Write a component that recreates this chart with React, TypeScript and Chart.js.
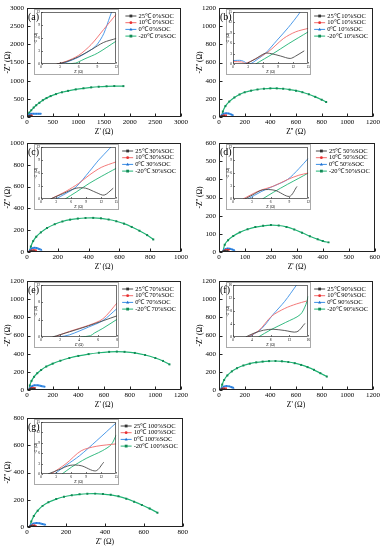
import React, { useEffect, useRef } from "react";
import { Chart, registerables } from "chart.js";
Chart.register(...registerables);

type Pt = [number, number];
const SERIF = "'Liberation Serif', 'Times New Roman', serif";

// ---------- labels ----------
const temps = ["25℃", "10℃", "0℃", "-20℃"];
const socLabels = ["0%SOC", "10%SOC", "30%SOC", "50%SOC", "70%SOC", "90%SOC", "100%SOC"];
const panelLetters = ["(a)", "(b)", "(c)", "(d)", "(e)", "(f)", "(g)"];
const xTitles = ["Z' (Ω)", "Z'' (Ω)", "Z' (Ω)", "Z' (Ω)", "Z' (Ω)", "Z' (Ω)", "Z' (Ω)"];
const yTitle = "-Z'' (Ω)";

// ---------- main axes ----------
const mainMax = [3000, 1200, 1000, 600, 1200, 1200, 800];
const mainStep = [500, 200, 200, 100, 200, 200, 200];

// ---------- inset axes ----------
const insetXMax = [12, 15, 15, 12, 8, 16, 15];
const insetXStep = [3, 3, 3, 3, 2, 4, 3];
const insetYMax = [12, 15, 12, 12, 12, 16, 15];
const insetYStep = [3, 3, 3, 3, 4, 4, 3];

// ---------- main data (Z', -Z'') ----------
const a25: Pt[] = [[8, 0], [15, 10], [25, 20], [40, 28], [60, 32], [80, 30]];
const a10: Pt[] = [[8, 0], [20, 15], [40, 28], [60, 35], [80, 38], [95, 40]];
const a0: Pt[] = [[8, 0], [20, 30], [40, 60], [60, 80], [90, 88], [130, 90], [180, 90], [230, 90], [275, 90]];
const aN20: Pt[] = [[5, 0], [20, 60], [45, 120], [83, 185], [130, 260], [180, 324], [240, 390], [308, 463], [380, 520], [460, 575], [564, 630], [680, 680], [800, 720], [949, 759], [1100, 790], [1250, 815], [1397, 833], [1550, 845], [1700, 852], [1878, 850]];

const b25: Pt[] = [[10, 0], [15, 5], [22, 10], [30, 8], [38, 5], [42, 8]];
const b10: Pt[] = [[10, 0], [18, 8], [28, 15], [40, 18], [55, 18]];
const b0: Pt[] = [[10, 0], [20, 20], [35, 35], [55, 42], [75, 38], [95, 28], [110, 20]];
const bN20: Pt[] = [[20, 0], [30, 60], [50, 120], [80, 170], [120, 215], [160, 248], [200, 272], [250, 290], [300, 303], [350, 311], [400, 315], [450, 315], [500, 311], [550, 302], [600, 290], [650, 273], [700, 250], [750, 222], [800, 190], [835, 165]];

const c25: Pt[] = [[10, 0], [18, 6], [26, 10], [34, 8], [40, 5], [46, 9]];
const c10: Pt[] = [[10, 0], [20, 10], [32, 17], [45, 19], [58, 17]];
const c0: Pt[] = [[12, 0], [20, 18], [32, 32], [48, 38], [62, 36], [78, 28], [95, 18]];
const cN20: Pt[] = [[15, 0], [25, 50], [40, 100], [60, 140], [90, 180], [130, 220], [180, 255], [230, 280], [280, 297], [330, 307], [380, 312], [430, 313], [480, 309], [530, 298], [580, 282], [630, 260], [680, 230], [730, 195], [780, 155], [820, 115]];

const d25: Pt[] = [[12, 0], [16, 4], [21, 7], [26, 6], [30, 4], [34, 6]];
const d10: Pt[] = [[12, 0], [18, 6], [24, 11], [31, 13], [38, 12]];
const d0: Pt[] = [[13, 0], [18, 9], [25, 16], [33, 19], [42, 18], [51, 14], [60, 9]];
const dN20: Pt[] = [[15, 0], [22, 40], [35, 65], [55, 88], [80, 108], [110, 125], [140, 137], [170, 144], [200, 148], [230, 146], [260, 138], [290, 124], [320, 106], [350, 87], [380, 70], [400, 60], [422, 53]];

const e25: Pt[] = [[12, 0], [20, 10], [30, 18], [42, 16], [52, 12], [60, 16]];
const e10: Pt[] = [[12, 0], [22, 14], [35, 22], [48, 25], [62, 22]];
const e0: Pt[] = [[14, 0], [25, 25], [40, 42], [60, 52], [85, 52], [110, 45], [140, 35]];
const eN20: Pt[] = [[15, 0], [22, 50], [35, 100], [55, 145], [80, 185], [110, 220], [150, 258], [200, 290], [260, 322], [330, 352], [400, 375], [480, 395], [560, 410], [640, 420], [700, 423], [760, 420], [840, 408], [920, 385], [1000, 352], [1060, 320], [1110, 282]];

const f25: Pt[] = [[10, 0], [15, 5], [22, 10], [30, 8], [38, 5], [44, 8]];
const f10: Pt[] = [[10, 0], [18, 9], [28, 16], [40, 19], [55, 18]];
const f0: Pt[] = [[12, 0], [22, 22], [38, 38], [58, 44], [80, 40], [100, 30], [115, 22]];
const fN20: Pt[] = [[15, 0], [25, 60], [40, 110], [65, 160], [100, 205], [140, 240], [190, 270], [240, 290], [290, 304], [340, 313], [390, 318], [440, 319], [490, 316], [540, 308], [590, 295], [640, 276], [690, 252], [740, 222], [790, 185], [840, 148]];

const g25: Pt[] = [[10, 0], [15, 5], [22, 8], [30, 6], [36, 8]];
const g10: Pt[] = [[10, 0], [18, 8], [28, 12], [38, 12], [45, 10]];
const g0: Pt[] = [[12, 0], [20, 15], [32, 25], [48, 30], [65, 28], [80, 22], [95, 17]];
const gN20: Pt[] = [[15, 0], [22, 40], [35, 80], [55, 120], [80, 155], [110, 182], [150, 205], [190, 222], [230, 233], [270, 240], [310, 244], [350, 245], [390, 242], [430, 236], [470, 225], [510, 208], [550, 186], [590, 162], [630, 135], [670, 105]];

// ---------- inset data (high-frequency zoom) ----------
const ai25: Pt[] = [[2.5, 0], [4, 0.5], [6, 1.7], [8, 3.3], [10, 5], [12, 5.9]];
const ai10: Pt[] = [[2.5, 0], [4, 0.6], [6, 2], [8, 4.5], [10, 8], [12, 11.5]];
const ai0: Pt[] = [[2.8, 0], [4, 0.4], [6, 1.6], [8.2, 3.5], [9, 4.6], [10, 7], [11, 11], [11.5, 13]];
const aiN20: Pt[] = [[4, 0], [5.5, 0.2], [6, 0.5], [7, 1.2], [9, 2.5], [12, 5.3]];

const bi25: Pt[] = [[2.6, 0], [4.5, 1.5], [6.4, 3.1], [7.6, 3], [9.5, 2.3], [11.4, 1.6], [12.5, 2.3], [14.2, 3.8]];
const bi10: Pt[] = [[0, 0.7], [1.7, 0.6], [2.5, 0.2], [4.5, 1.5], [7, 3.5], [10.1, 7.4], [12.5, 9.3], [15, 10.3]];
const bi0: Pt[] = [[0, 1], [1.7, 1], [3.25, 0], [5, 1.5], [6.4, 3], [8.8, 6.9], [11, 10.5], [13.2, 14.6], [13.5, 15.5]];
const biN20: Pt[] = [[4.5, 0], [8, 3], [11, 5.8], [15, 9.3]];

const ci25: Pt[] = [[1.9, 0], [4.5, 1.3], [7, 2.5], [8.9, 2.5], [11, 1.5], [12.6, 0.9], [14.4, 2.5]];
const ci10: Pt[] = [[1.9, 0], [5, 1.8], [7.5, 3.6], [9.6, 5.5], [12, 7.3], [15, 8.6]];
const ci0: Pt[] = [[2.9, 0], [5, 1.3], [7, 2.8], [9.6, 6.3], [11.5, 9], [13.7, 11.7], [14.2, 12.4]];
const ciN20: Pt[] = [[4.8, 0], [7, 1.6], [9.6, 3.6], [12, 5.2], [15, 7.1]];

const di25: Pt[] = [[1.9, 0], [3.2, 1], [4.7, 2.1], [6.7, 2], [9, 0.6], [10.2, 2.9]];
const di10: Pt[] = [[1.6, 0], [4, 1.8], [6.5, 3], [8.7, 4.5], [10.5, 5.5], [12, 6]];
const di0: Pt[] = [[2.4, 0], [4.5, 1.7], [6.5, 3], [8.7, 4.5], [10.5, 7], [12, 9.4]];
const diN20: Pt[] = [[4.7, 0], [6.5, 1.6], [8.7, 3.4], [10.5, 4.8], [12, 6]];

const ei25: Pt[] = [[1.2, 0], [3, 1.2], [5, 2.6], [8, 4.9]];
const ei10: Pt[] = [[1.4, 0], [3, 1.3], [5, 2.7], [6.5, 4.2], [8, 7.9]];
const ei0: Pt[] = [[1.9, 0], [3, 0.5], [5, 2.3], [6.5, 3.8], [8, 6.6]];
const eiN20: Pt[] = [[4.2, 0], [5.2, 0.3], [5.6, 0.9], [6.5, 2], [8, 4.1]];

const fi25: Pt[] = [[2.7, 0], [4.5, 1.2], [6.5, 2.1], [8.5, 2.4], [11, 2], [13.6, 1.6], [15.3, 4.2]];
const fi10: Pt[] = [[3.1, 0], [5.5, 2], [8.2, 6.4], [11, 8.8], [13.5, 10.2], [15.7, 11.1]];
const fi0: Pt[] = [[3.4, 0], [6.1, 2.6], [8.5, 6.9], [11, 11], [13.5, 16]];
const fiN20: Pt[] = [[5.4, 0], [8, 2.2], [11.2, 4.5], [14.3, 6.9], [15.5, 10], [16, 12.6]];

const gi25: Pt[] = [[1.4, 0], [3.5, 1.2], [5.8, 2.5], [8, 2.4], [10.9, 0.9], [12.5, 3.4]];
const gi10: Pt[] = [[2, 0], [5, 3], [8, 6.7], [11, 8], [15, 8.7]];
const gi0: Pt[] = [[2.7, 0], [5, 2.5], [7.7, 5.3], [11, 9.5], [15, 14.8]];
const giN20: Pt[] = [[4.2, 0], [6.1, 2], [9, 4.5], [12.2, 6.7], [14, 8.5], [15, 11.3]];

const mainSeries: Pt[][][] = [
  [a25, a10, a0, aN20], [b25, b10, b0, bN20], [c25, c10, c0, cN20], [d25, d10, d0, dN20],
  [e25, e10, e0, eN20], [f25, f10, f0, fN20], [g25, g10, g0, gN20],
];
const insetSeries: Pt[][][] = [
  [ai25, ai10, ai0, aiN20], [bi25, bi10, bi0, biN20], [ci25, ci10, ci0, ciN20], [di25, di10, di0, diN20],
  [ei25, ei10, ei0, eiN20], [fi25, fi10, fi0, fiN20], [gi25, gi10, gi0, giN20],
];

// ---------- styling ----------
const COLORS = ["#4a4a4a", "#f26b6b", "#3a8ee6", "#1fb374"];
const MARKER_COLORS = ["#333333", "#e83030", "#1f6fd0", "#128a55"];
const POINT_STYLES = ["rect", "circle", "triangle", "rect"];
const PANEL_X = [0, 192, 0, 192, 0, 192, 0];
const PANEL_Y = [0, 0, 135, 135, 273, 273, 410];
const PW = 190, PH = 139;
const IW = 85, IH = 66, IX = 34, IY = 9;

function drawMarker(ctx: CanvasRenderingContext2D, style: string, x: number, y: number, r: number, color: string) {
  ctx.fillStyle = color;
  ctx.beginPath();
  if (style === "circle") ctx.arc(x, y, r, 0, Math.PI * 2);
  else if (style === "triangle") { ctx.moveTo(x, y - r * 1.2); ctx.lineTo(x + r * 1.1, y + r * 0.8); ctx.lineTo(x - r * 1.1, y + r * 0.8); ctx.closePath(); }
  else ctx.rect(x - r, y - r, r * 2, r * 2);
  ctx.fill();
}

function framePlugin(tickLen: number, color: string, outer: boolean) {
  return {
    id: "frame",
    beforeDraw(chart: any) {
      if (!outer) return;
      const { ctx, width, height } = chart;
      ctx.save();
      ctx.fillStyle = "#fff";
      ctx.fillRect(0, 0, width, height);
      ctx.strokeStyle = "#aaa";
      ctx.lineWidth = 1;
      ctx.strokeRect(0.5, 0.5, width - 1, height - 1);
      ctx.restore();
    },
    afterDatasetsDraw(chart: any) {
      const { ctx, chartArea: a, scales } = chart;
      ctx.save();
      ctx.strokeStyle = color;
      ctx.lineWidth = outer ? 0.7 : 1;
      const L = Math.round(a.left) + 0.5, T = Math.round(a.top) + 0.5;
      const R = Math.round(a.right) - 0.5, B = Math.round(a.bottom) - 0.5;
      ctx.strokeRect(L, T, R - L, B - T);
      ctx.beginPath();
      scales.x.ticks.forEach((_t: any, i: number) => {
        const px = Math.round(scales.x.getPixelForTick(i)) + 0.5;
        ctx.moveTo(px, B); ctx.lineTo(px, B - tickLen);
      });
      scales.y.ticks.forEach((_t: any, i: number) => {
        const py = Math.round(scales.y.getPixelForTick(i)) + 0.5;
        ctx.moveTo(L, py); ctx.lineTo(L + tickLen, py);
      });
      ctx.stroke();
      ctx.restore();
    },
  };
}

function legendPlugin(idx: number) {
  return {
    id: "lg",
    afterDraw(chart: any) {
      const { ctx, chartArea: a } = chart;
      ctx.save();
      ctx.font = `6.5px ${SERIF}`;
      const labels = temps.map((t) => `${t} ${socLabels[idx]}`);
      const w = Math.max(...labels.map((l) => ctx.measureText(l).width));
      const x0 = a.right - 5 - w - 13;
      labels.forEach((l, i) => {
        const y = a.top + 8 + i * 6.7;
        ctx.strokeStyle = COLORS[i];
        ctx.lineWidth = 1;
        ctx.beginPath(); ctx.moveTo(x0, y); ctx.lineTo(x0 + 11, y); ctx.stroke();
        drawMarker(ctx, POINT_STYLES[i], x0 + 5.5, y, 1.4, MARKER_COLORS[i]);
        ctx.fillStyle = "#000";
        ctx.textBaseline = "middle";
        ctx.textAlign = "left";
        ctx.fillText(l, x0 + 13, y);
      });
      ctx.restore();
    },
  };
}

function MainChart({ idx }: { idx: number }) {
  const ref = useRef<HTMLCanvasElement>(null);
  useEffect(() => {
    const series = mainSeries[idx];
    const chart = new Chart(ref.current!, {
      type: "scatter",
      data: {
        datasets: series.map((pts, i) => ({
          label: `${temps[i]} ${socLabels[idx]}`,
          data: pts.map(([x, y]) => ({ x, y })),
          showLine: true,
          borderColor: COLORS[i],
          backgroundColor: MARKER_COLORS[i],
          borderWidth: i === 2 ? 2 : i === 3 ? 1.2 : 1,
          pointRadius: i === 3 ? 1.4 : 1,
          pointBorderWidth: 0,
          pointStyle: POINT_STYLES[i] as any,
          tension: 0.3,
        })),
      },
      options: {
        responsive: false,
        animation: false,
        devicePixelRatio: 1,
        layout: { padding: { top: 8, right: 7, left: 0, bottom: 0 } },
        plugins: { legend: { display: false }, tooltip: { enabled: false } },
        scales: {
          x: {
            type: "linear", min: 0, max: mainMax[idx],
            ticks: { stepSize: mainStep[idx], font: { family: SERIF, size: 7, lineHeight: 1 }, color: "#000", padding: 2, maxRotation: 0, autoSkip: false, callback: (v: any) => String(v) },
            grid: { display: false, drawTicks: false },
            border: { display: false },
            title: { display: true, text: xTitles[idx], font: { family: SERIF, size: 7.5, lineHeight: 1 }, color: "#000", padding: { top: 0, bottom: 3.5 } },
            afterFit: (s: any) => { s.height = 22; },
          },
          y: {
            type: "linear", min: 0, max: mainMax[idx],
            ticks: { stepSize: mainStep[idx], font: { family: SERIF, size: 7 }, color: "#000", padding: 3, autoSkip: false, callback: (v: any) => String(v) },
            grid: { display: false, drawTicks: false },
            border: { display: false },
            title: { display: true, text: yTitle, font: { family: SERIF, size: 7.5, lineHeight: 1 }, color: "#000", padding: { top: 4, bottom: 0 } },
            afterFit: (s: any) => { s.width = 27; },
          },
        },
      } as any,
      plugins: [framePlugin(3, "#222", false), legendPlugin(idx)],
    });
    return () => chart.destroy();
  }, [idx]);
  return (
    <canvas ref={ref} width={PW} height={PH}
      style={{ position: "absolute", left: PANEL_X[idx], top: PANEL_Y[idx], width: PW, height: PH }} />
  );
}

function InsetChart({ idx }: { idx: number }) {
  const ref = useRef<HTMLCanvasElement>(null);
  useEffect(() => {
    const series = insetSeries[idx];
    const chart = new Chart(ref.current!, {
      type: "scatter",
      data: {
        datasets: series.map((pts, i) => ({
          label: `${temps[i]}`,
          data: pts.map(([x, y]) => ({ x, y })),
          showLine: true,
          borderColor: COLORS[i],
          backgroundColor: COLORS[i],
          borderWidth: 0.9,
          pointRadius: 0,
          tension: 0.3,
        })),
      },
      options: {
        responsive: false,
        animation: false,
        devicePixelRatio: 1,
        layout: { padding: { top: 1, right: 1, left: 0, bottom: 0 } },
        plugins: { legend: { display: false }, tooltip: { enabled: false } },
        scales: {
          x: {
            type: "linear", min: 0, max: insetXMax[idx],
            ticks: { stepSize: insetXStep[idx], font: { family: SERIF, size: 3.5 }, color: "#000", padding: 1, maxRotation: 0, autoSkip: false, callback: (v: any) => String(v) },
            grid: { display: false, drawTicks: false },
            border: { display: false },
            title: { display: true, text: "Z' (Ω)", font: { family: SERIF, size: 3.5 }, color: "#000", padding: { top: 0, bottom: 1 } },
            afterFit: (s: any) => { s.height = 11; },
          },
          y: {
            type: "linear", min: 0, max: insetYMax[idx],
            ticks: { stepSize: insetYStep[idx], font: { family: SERIF, size: 3.5 }, color: "#000", padding: 1, autoSkip: false, callback: (v: any) => String(v) },
            grid: { display: false, drawTicks: false },
            border: { display: false },
            title: { display: true, text: yTitle, font: { family: SERIF, size: 3.5 }, color: "#000", padding: { top: 0, bottom: 0 } },
            afterFit: (s: any) => { s.width = 7; },
          },
        },
      } as any,
      plugins: [framePlugin(1.5, "#333", true)],
    });
    return () => chart.destroy();
  }, [idx]);
  return (
    <canvas ref={ref} width={IW} height={IH}
      style={{ position: "absolute", left: PANEL_X[idx] + IX, top: PANEL_Y[idx] + IY, width: IW, height: IH }} />
  );
}

export default function App() {
  const idxs = [0, 1, 2, 3, 4, 5, 6];
  return (
    <div style={{ position: "fixed", left: 0, top: 0, width: 387, height: 550, background: "#fff", overflow: "hidden" }}>
      {idxs.map((i) => <MainChart key={"m" + i} idx={i} />)}
      {idxs.map((i) => <InsetChart key={"i" + i} idx={i} />)}
      {idxs.map((i) => (
        <div key={"l" + i} style={{ position: "absolute", left: PANEL_X[i] + 28, top: PANEL_Y[i] + 12, font: `10px ${SERIF}`, lineHeight: "10px", color: "#000", zIndex: 3 }}>
          {panelLetters[i]}
        </div>
      ))}
    </div>
  );
}
